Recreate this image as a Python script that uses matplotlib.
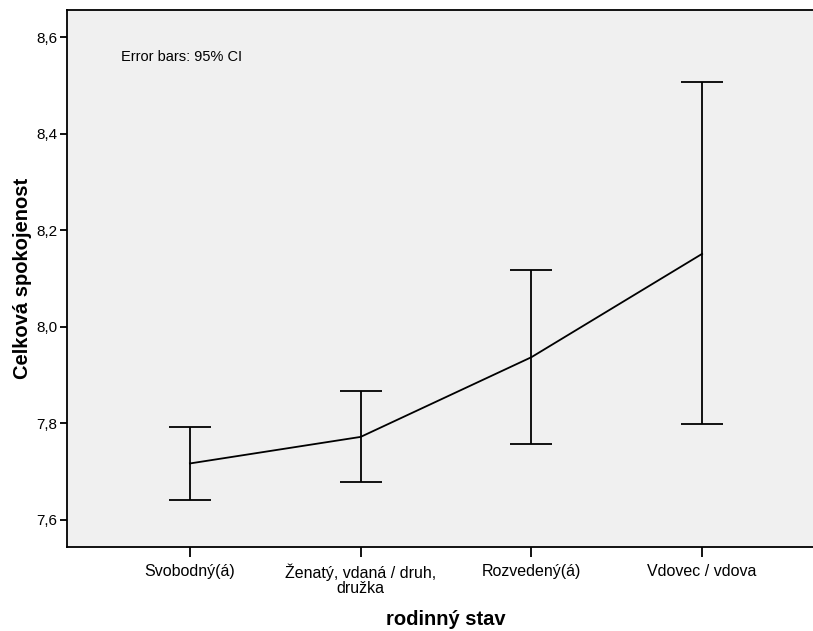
import matplotlib
matplotlib.use("Agg")
import matplotlib.pyplot as plt

categories = ["Svobodný(á)", "Ženatý, vdaná / druh,\ndružka", "Rozvedený(á)", "Vdovec / vdova"]
means = [7.717, 7.772, 7.937, 8.151]
ci_low = [7.641, 7.679, 7.757, 7.798]
ci_high = [7.792, 7.867, 8.117, 8.507]
yticks = [7.6, 7.8, 8.0, 8.2, 8.4, 8.6]
ytick_labels = ["7,6", "7,8", "8,0", "8,2", "8,4", "8,6"]

plt.rcParams['font.family'] = ['Liberation Sans', 'DejaVu Sans']

W, H = 813, 631
fig = plt.figure(figsize=(W / 100, H / 100), dpi=100)
left, right, top, bottom = 67, 825, 10, 547
ax = fig.add_axes([left / W, 1 - bottom / H, (right - left) / W, (bottom - top) / H])
ax.set_facecolor("#F0F0F0")
ax.patch.set_edgecolor("none")

x = list(range(len(categories)))
lower = [m - l for m, l in zip(means, ci_low)]
upper = [h - m for m, h in zip(means, ci_high)]
ax.plot(x, means, color="black", lw=1.3, zorder=3)
ax.errorbar(x, means, yerr=[lower, upper], fmt="none", ecolor="black",
            elinewidth=1.3, capsize=15, capthick=1.3, zorder=3)

ax.set_xlim(-0.72, 3.72)
ax.set_ylim(7.544, 8.656)
ax.set_xticks(x)
ax.set_xticklabels(categories, fontsize=11.5, linespacing=1.0)
ax.set_yticks(yticks)
ax.set_yticklabels(ytick_labels, fontsize=11)
ax.tick_params(axis="x", direction="out", length=7, width=1.3, pad=5)
ax.tick_params(axis="y", direction="out", length=5, width=1.3, pad=2)

for s in ["left", "bottom", "top"]:
    ax.spines[s].set_linewidth(1.3)
    ax.spines[s].set_color("black")
ax.spines["right"].set_visible(False)

ax.set_ylabel("Celková spokojenost", fontsize=14.5, fontweight="bold", labelpad=3)
ax.set_xlabel("rodinný stav", fontsize=14.5, fontweight="bold", labelpad=10)

ax.text(121 / W, 1 - 57 / H, "Error bars: 95% CI", transform=fig.transFigure,
        fontsize=10.5, va="center", ha="left")

fig.savefig("out.png", dpi=100)
